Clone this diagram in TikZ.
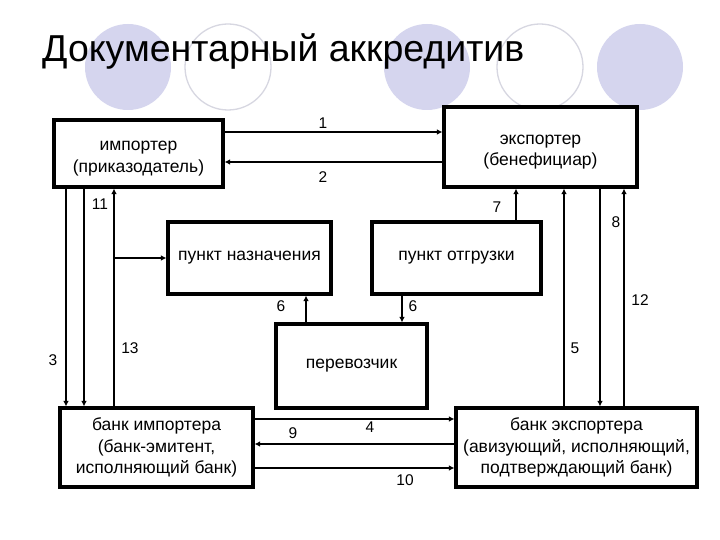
\documentclass[tikz,border=0pt]{standalone}
\usepackage{fontspec}
\setmainfont{Liberation Sans}
\usetikzlibrary{arrows.meta}
\definecolor{lav}{RGB}{213,213,238}
\definecolor{ring}{RGB}{215,215,225}
\newcommand{\upstrut}{\rule{0pt}{20pt}}
\begin{document}
\begin{tikzpicture}[x=1pt,y=-1pt,
  box/.style={draw,line width=3.1pt,fill=white,align=center,inner sep=0pt,font=\fontsize{17.5}{21.5}\selectfont},
  conn/.style={line width=1.9pt,-{Latex[length=5.5pt,width=5.5pt]}},
  num/.style={inner sep=0pt,font=\fontsize{15.5}{18}\selectfont}]
\useasboundingbox (0,0) rectangle (720,540);
\fill[white] (0,0) rectangle (720,540);
% decorative circles
\fill[lav] (128,67) circle (43);
\draw[ring,line width=1.3pt] (228,67) circle (43);
\fill[lav] (427,67) circle (43);
\draw[ring,line width=1.3pt] (540,67) circle (43);
\fill[lav] (640,67) circle (43);
\node[anchor=west,inner sep=0pt,font=\fontsize{37.5}{44}\selectfont] (title) at (42,51) {Документарный аккредитив};
% boxes
\node[box,minimum width=169pt,minimum height=67pt] (imp) at (138.5,153.5) {\upstrut импортер\\(приказодатель)};
\node[box,minimum width=193pt,minimum height=80pt] (exp) at (540.5,147) {\upstrut экспортер\\(бенефициар)};
\node[box,minimum width=163pt,minimum height=72pt] (dest) at (249.5,258) {пункт назначения};
\node[box,minimum width=169pt,minimum height=72pt] (ship) at (456.5,258) {пункт отгрузки};
\node[box,minimum width=151pt,minimum height=84pt] (car) at (351.5,366) {перевозчик};
\node[box,minimum width=193pt,minimum height=79pt] (bi) at (156.5,447.5) {банк импортера\\(банк-эмитент,\\исполняющий банк)};
\node[box,minimum width=241pt,minimum height=79pt] (be) at (576.5,447.5) {банк экспортера\\(авизующий, исполняющий,\\подтверждающий банк)};
% levels
\coordinate (h1) at (0,132);
\coordinate (h2) at (0,162);
\coordinate (h4) at (0,419);
\coordinate (h9) at (0,444);
\coordinate (h10) at (0,468);
\coordinate (v3) at (66,0);
\coordinate (v11) at (84,0);
\coordinate (v13) at (114,0);
\coordinate (v6a) at (306,0);
\coordinate (v6b) at (402,0);
\coordinate (v7) at (516,0);
\coordinate (v5) at (564,0);
\coordinate (v8) at (600,0);
\coordinate (v12) at (624,0);
% connectors
\draw[conn] (imp.east |- h1) -- (exp.west |- h1);
\draw[conn] (exp.west |- h2) -- (imp.east |- h2);
\draw[conn] (imp.south -| v3) -- (bi.north -| v3);
\draw[conn] (imp.south -| v11) -- (bi.north -| v11);
\draw[conn] (bi.north -| v13) -- (imp.south -| v13);
\draw[conn] (dest.west -| v13) -- (dest.west);
\draw[conn] (car.north -| v6a) -- (dest.south -| v6a);
\draw[conn] (ship.south -| v6b) -- (car.north -| v6b);
\draw[conn] (ship.north -| v7) -- (exp.south -| v7);
\draw[conn] (be.north -| v5) -- (exp.south -| v5);
\draw[conn] (exp.south -| v8) -- (be.north -| v8);
\draw[conn] (be.north -| v12) -- (exp.south -| v12);
\draw[conn] (bi.east |- h4) -- (be.west |- h4);
\draw[conn] (be.west |- h9) -- (bi.east |- h9);
\draw[conn] (bi.east |- h10) -- (be.west |- h10);
% labels
\node[num] (n1) at (323,123) {1};
\node[num] (n2) at (323,177) {2};
\node[num] (n7) at (497,207) {7};
\node[num] (n8) at (616,222) {8};
\node[num] (n12) at (640,300) {12};
\node[num] (n5) at (575,348) {5};
\node[num] (n11) at (100,204) {11};
\node[num] (n3) at (53,360) {3};
\node[num] (n13) at (130,348) {13};
\node[num] (n6a) at (281,306) {6};
\node[num] (n6b) at (413,306) {6};
\node[num] (n9) at (293,433) {9};
\node[num] (n4) at (370,427) {4};
\node[num] (n10) at (405,480) {10};
\end{tikzpicture}
\end{document}
